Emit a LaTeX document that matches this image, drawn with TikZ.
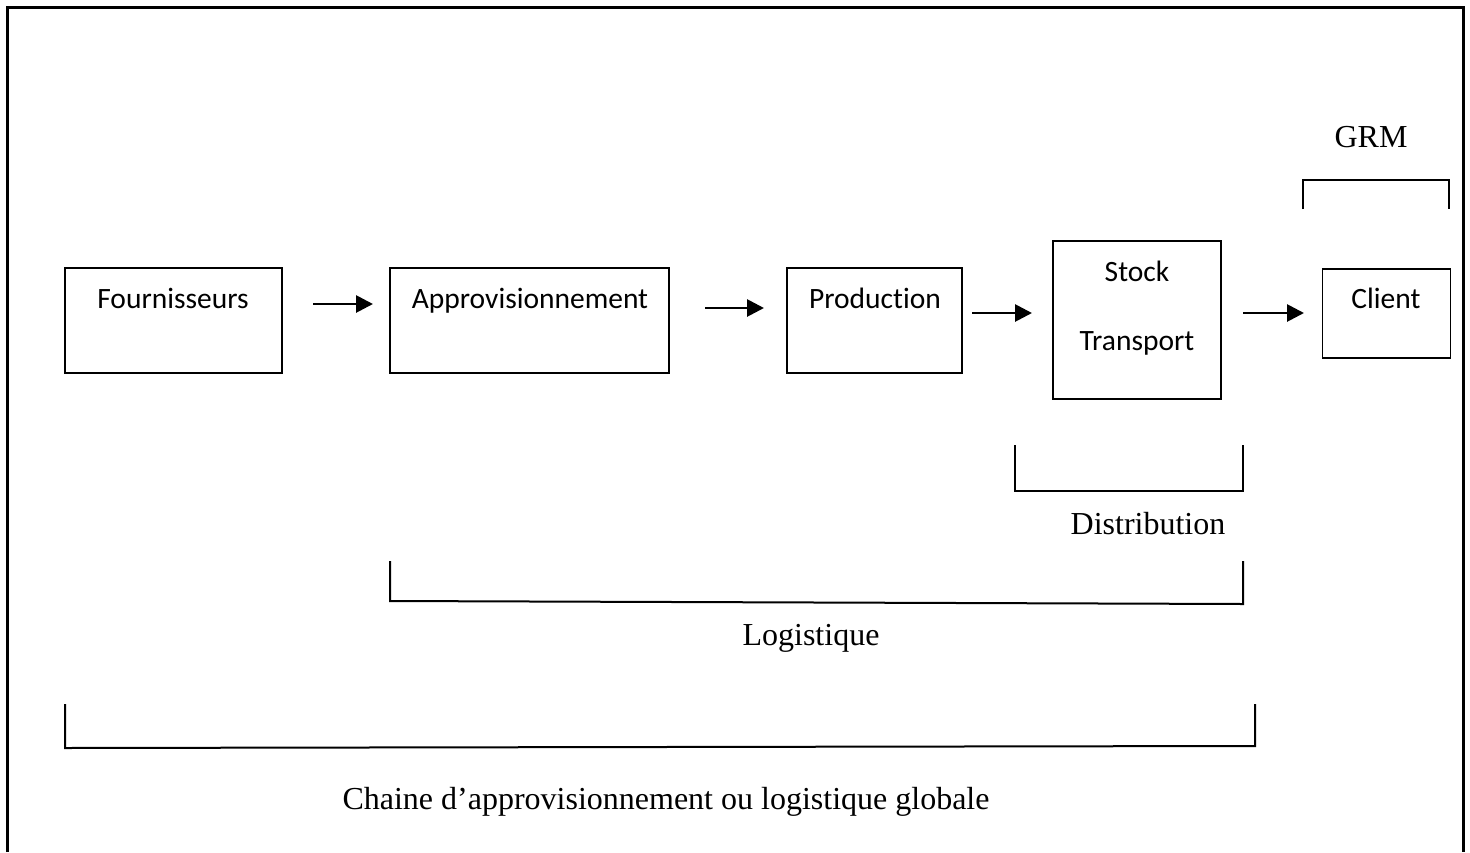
\documentclass[tikz,border=0pt]{standalone}
\usepackage{fontspec}
\setmainfont{Liberation Serif}
\newfontfamily\boxfont[Ligatures={NoCommon,NoRare,NoDiscretionary,NoContextual}]{Carlito}
\usetikzlibrary{arrows.meta}
\begin{document}
\begin{tikzpicture}[x=1pt,y=-1pt,
  box/.style={draw,line width=1.5pt,rectangle,inner sep=0pt},
  boxtext/.style={font=\boxfont\fontsize{29.5}{34}\selectfont,anchor=base,inner sep=0pt},
  serif/.style={font=\fontsize{32}{36}\selectfont,anchor=base,inner sep=0pt},
  flow/.style={line width=2.8pt,-{Triangle[length=17pt,width=17pt]}},
  bracket/.style={line width=2pt,line join=miter}]
\useasboundingbox (0,0) rectangle (1470,852);
\fill[white] (0,0) rectangle (1470,852);
% frame
\draw[line width=3pt] (7,852) -- (7,7) -- (1463,7) -- (1463,852);
% boxes
\node[box,minimum width=217pt,minimum height=105pt] (f) at (173.5,320.5) {};
\node[box,minimum width=279pt,minimum height=105pt] (a) at (529.5,320.5) {};
\node[box,minimum width=175pt,minimum height=105pt] (p) at (874.5,320.5) {};
\node[box,minimum width=168pt,minimum height=158pt] (s) at (1137,320) {};
\node[box,minimum width=128pt,minimum height=89pt] (c) at (1386.5,313.5) {};
% box texts
\node[boxtext] (tf) at (173,308) {Fournisseurs};
\node[boxtext] (ta) at (530,308) {Approvisionnement};
\node[boxtext] (tp) at (875,308) {Production};
\node[boxtext] (ts) at (1137,281) {Stock};
\node[boxtext] (tt) at (1137,350) {Transport};
\node[boxtext] (tc) at (1386,308) {Client};
% arrow ends
\coordinate (a1s) at (313,304); \coordinate (a1e) at (373,304);
\coordinate (a2s) at (705,308); \coordinate (a2e) at (764,308);
\coordinate (a3s) at (972,313); \coordinate (a3e) at (1032,313);
\coordinate (a4s) at (1243,313); \coordinate (a4e) at (1304,313);
\draw[flow] (a1s) -- (a1e);
\draw[flow] (a2s) -- (a2e);
\draw[flow] (a3s) -- (a3e);
\draw[flow] (a4s) -- (a4e);
% GRM bracket
\coordinate (g1) at (1303,209); \coordinate (g2) at (1303,180);
\coordinate (g3) at (1449,180); \coordinate (g4) at (1449,209);
\draw[bracket] (g1) -- (g2) -- (g3) -- (g4);
\node[serif] (grm) at (1371,147) {GRM};
% Distribution bracket
\coordinate (d1) at (1015,445); \coordinate (d2) at (1015,491);
\coordinate (d3) at (1243,491); \coordinate (d4) at (1243,445);
\draw[bracket] (d1) -- (d2) -- (d3) -- (d4);
\node[serif] (dist) at (1148,534) {Distribution};
% Logistique bracket
\coordinate (l1) at (390,561); \coordinate (l2) at (390,601);
\coordinate (l3) at (1243,604); \coordinate (l4) at (1243,561);
\draw[bracket] (l1) -- (l2) -- (l3) -- (l4);
\node[serif] (log) at (811,645) {Logistique};
% Chain bracket
\coordinate (c1) at (65,704); \coordinate (c2) at (65,748);
\coordinate (c3) at (1255,746); \coordinate (c4) at (1255,704);
\draw[bracket] (c1) -- (c2) -- (c3) -- (c4);
\node[serif] (chain) at (666,809) {Chaine d’approvisionnement ou logistique globale};
\end{tikzpicture}
\end{document}
